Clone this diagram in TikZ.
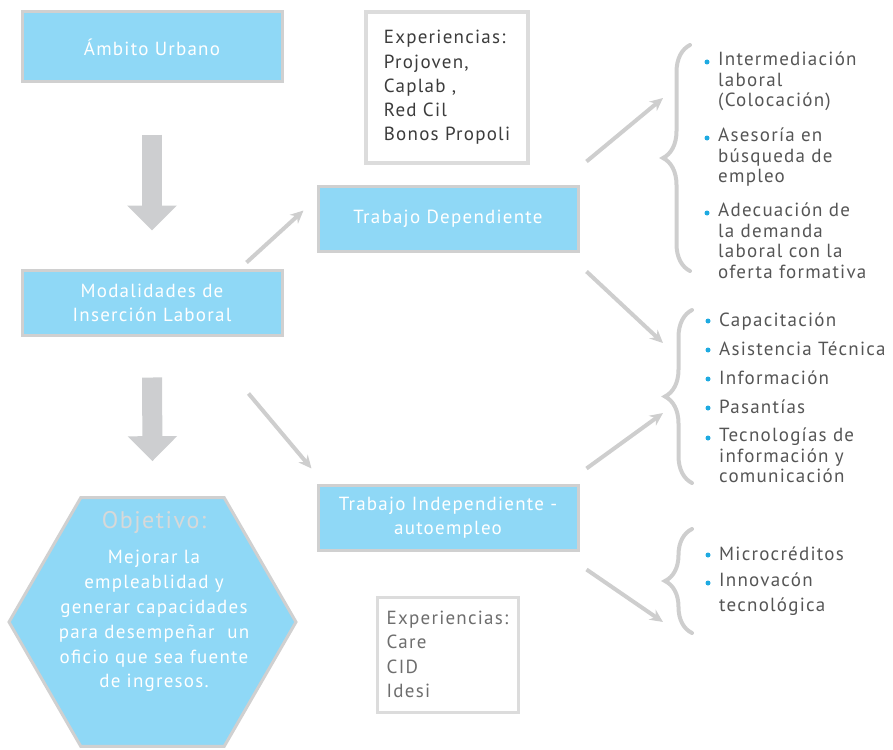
\documentclass[tikz,border=0pt]{standalone}
\usepackage{fontspec}
\setmainfont[LetterSpace = 6.5]{PT Sans}
\usepackage{tikz}
\usetikzlibrary{shapes.geometric, arrows.meta, positioning, decorations.pathreplacing}
\definecolor{boxblue}{RGB}{143,216,246}
\definecolor{boxgray}{RGB}{208,208,208}
\definecolor{expgray}{RGB}{220,220,220}
\definecolor{arrowgray}{RGB}{206,206,206}
\definecolor{biggray}{RGB}{205,206,208}
\definecolor{listgray}{RGB}{85,85,85}
\definecolor{darktext}{RGB}{60,60,60}
\definecolor{softtext}{RGB}{110,110,110}
\definecolor{titlegray}{RGB}{216,216,216}
\definecolor{dotblue}{RGB}{30,170,225}
\tikzstyle{block} = [rectangle, draw = boxgray, line width = 3pt, fill = boxblue, text = white, align = center, minimum width = 260pt, minimum height = 65pt, font = \fontsize{19}{24}\selectfont]
\tikzstyle{expbox} = [rectangle, draw = expgray, line width = 4pt, fill = white, align = left, inner sep = 0pt, font = \fontsize{19}{24.3}\selectfont]
\tikzstyle{hexa} = [regular polygon, regular polygon sides = 6, minimum size = 287pt, draw = boxgray, line width = 3pt, fill = boxblue, inner sep = 0pt]
\tikzstyle{hextitle} = [text = titlegray, inner sep = 0pt, font = \fontsize{24}{28}\selectfont]
\tikzstyle{hextext} = [text = white, align = center, inner sep = 0pt, font = \fontsize{19}{24.8}\selectfont]
\tikzstyle{item} = [anchor = north west, align = left, inner sep = 0pt, text = listgray, font = \fontsize{19}{20.5}\selectfont, execute at begin node = {\rule{0pt}{15pt}}]
\tikzstyle{line2} = [draw = arrowgray, line width = 4pt, -{Stealth[length = 13pt, width = 12pt]}]
\tikzstyle{bigline} = [draw = biggray, line width = 20pt, -{Triangle[length = 25pt, width = 48pt]}]
\tikzstyle{bracket} = [draw = arrowgray, line width = 4pt, line cap = round, decorate, decoration = {brace, amplitude = 27pt}]

\begin{document}
\begin{tikzpicture}[x = 1pt, y = -1pt]
			\useasboundingbox (0, 0) rectangle (893, 749);
			% Place nodes
			\node [block, minimum height = 70pt] (amb) at (152, 47) {Ámbito Urbano};
			\node [block] (mod) at (152, 302.5) {Modalidades de\\Inserción Laboral};
			\node [block] (td) at (448, 218.5) {Trabajo Dependiente};
			\node [block] (ti) at (448, 517.5) {Trabajo Independiente -\\autoempleo};
			\node [hexa] (obj) at (152.5, 622) {};
			\node [hextitle] (objtitle) at (154, 522) {Objetivo:};
			\node [hextext, below = 17pt of objtitle] (objtext) {Mejorar la\\empleablidad y\\generar capacidades\\para desempeñar~~un\\oficio que sea fuente\\de ingresos.};
			
			\node [expbox, text = darktext, minimum width = 162pt, minimum height = 151pt] (expa) at (447, 87.5) {Experiencias:\\Projoven,\\Caplab ,\\Red Cil\\Bonos Propoli};
			\node [expbox, text = softtext, line width = 3pt, minimum width = 141pt, minimum height = 115pt] (expb) at (447.5, 654.5) {Experiencias:\\Care\\CID\\Idesi};
			
			% Lists
			\node [item] (dep1) at (718, 52) {Intermediación\\laboral\\(Colocación)};
			\node [item] (dep2) at (718, 128) {Asesoría en\\búsqueda de\\empleo};
			\node [item] (dep3) at (718, 203) {Adecuación de\\la demanda\\laboral con la\\oferta formativa};
			\node [item] (com1) at (719, 311) {Capacitación};
			\node [item] (com2) at (719, 340) {Asistencia Técnica};
			\node [item] (com3) at (719, 369) {Información};
			\node [item] (com4) at (719, 398) {Pasantías};
			\node [item] (com5) at (719, 428) {Tecnologías de\\información y\\comunicación};
			\node [item] (ind1) at (719, 545) {Microcréditos};
			\node [item, font = \fontsize{19}{25}\selectfont] (ind2) at (719, 573) {Innovacón\\tecnológica};
			\foreach \n in {dep1, dep2, dep3, com1, com2, com3, com4, com5, ind1, ind2}
				\fill [dotblue] ([xshift = -11pt, yshift = -10pt]\n.north west) circle (2.5pt);
			
			% Braces
			\coordinate (br1top) at (690, 45);
			\coordinate (br1bot) at (690, 271);
			\coordinate (br2top) at (692, 310);
			\coordinate (br2bot) at (692, 483);
			\coordinate (br3top) at (692, 529);
			\coordinate (br3bot) at (692, 633);
			\coordinate (tip1) at (663, 98);
			\coordinate (tip2a) at (663, 343);
			\coordinate (tip2b) at (663, 413);
			\coordinate (tip3) at (663, 622);
			\path [bracket] (br1bot) -- (br1top);
			\path [bracket] (br2bot) -- (br2top);
			\path [bracket] (br3bot) -- (br3top);
			
			% Draw edges
			\path [bigline, shorten <= 51pt, shorten >= 38pt] (amb.south) -- (mod.north);
			\path [bigline, shorten <= 41pt, shorten >= 35pt] (mod.south) -- (obj.north);
			\path [line2] ([xshift = -37pt, yshift = 6pt]mod.north east) -- ([xshift = -13pt, yshift = 8pt]td.west);
			\path [line2] ([xshift = -35pt, yshift = -57pt]mod.south east) -- ([xshift = -5pt, yshift = 15pt]ti.north west);
			\path [line2] ([xshift = 7pt, yshift = 23pt]td.north east) -- (tip1);
			\path [line2] ([xshift = 7pt, yshift = -19pt]td.south east) -- (tip2a);
			\path [line2] ([xshift = 7pt, yshift = 15pt]ti.north east) -- (tip2b);
			\path [line2] ([xshift = 7pt, yshift = -18pt]ti.south east) -- (tip3);
		\end{tikzpicture}
\end{document}
